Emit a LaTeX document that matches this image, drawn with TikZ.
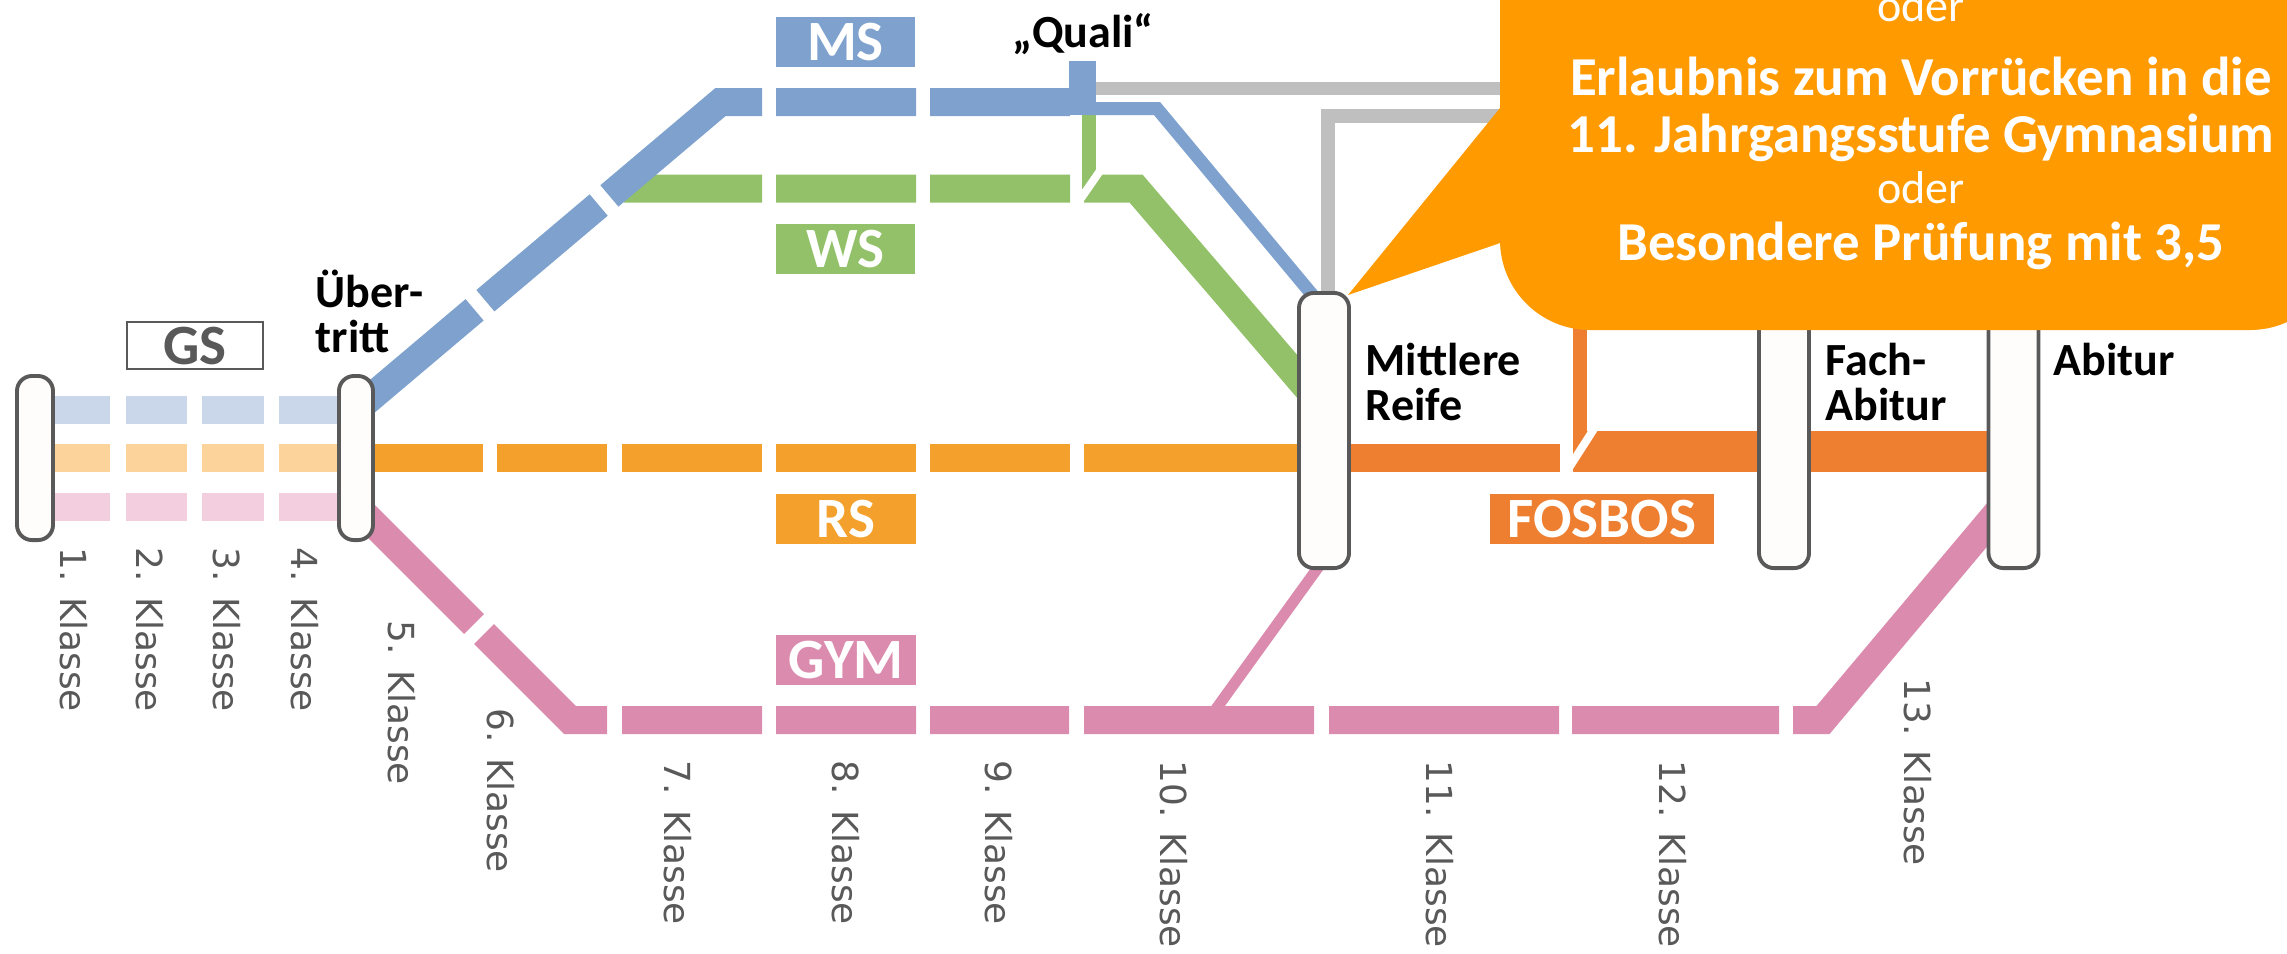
\documentclass[tikz,border=0pt]{standalone}
\usepackage{fontspec}
\setmainfont{Carlito}
\newfontfamily\klassefont{DejaVu Sans}
\definecolor{mscol}{HTML}{7EA2CD}
\definecolor{wscol}{HTML}{92C16A}
\definecolor{rscol}{HTML}{F3A12C}
\definecolor{gymcol}{HTML}{DB8BAD}
\definecolor{foscol}{HTML}{EE7F30}
\definecolor{lblue}{HTML}{CAD6EA}
\definecolor{lorange}{HTML}{FDD39C}
\definecolor{lpink}{HTML}{F2CEDE}
\definecolor{grayc}{HTML}{BFBFBF}
\definecolor{txtgray}{HTML}{595959}
\definecolor{pilfill}{HTML}{FFFDFB}
\definecolor{callcol}{HTML}{FF9A00}
\begin{document}
\begin{tikzpicture}[x=.01cm,y=-.01cm,
  band/.style={line width=.28cm},
  slim/.style={line width=.14cm},
  cut/.style={white,line width=.08cm},
  pillar/.style={draw=txtgray,fill=pilfill,line width=1.1pt,rounded corners=.15cm,inner sep=0pt},
  tag/.style={text=white,font=\fontsize{16.2}{18}\selectfont\bfseries,inner sep=0pt,minimum height=.5cm},
  lab/.style={font=\fontsize{13.1}{12.8}\selectfont\bfseries,align=left,anchor=base west,inner sep=0pt},
  kl/.style={text=txtgray,font=\klassefont\fontsize{10.2}{12}\selectfont,rotate=-90,anchor=west,inner sep=0pt},
  calltxt/.style={text=white,anchor=base,inner sep=0pt}]
\useasboundingbox (0,0) rectangle (2287,953);

\draw[line width=.13cm,grayc](1090,88.5)--(1530,88.5);
\draw[slim,grayc](1327.5,300)--(1327.5,115.5)--(1530,115.5);

\draw[band,lblue](35,409.5)--(110,409.5) (126,409.5)--(187,409.5) (202,409.5)--(264,409.5) (279,409.5)--(356,409.5);
\draw[band,lorange](35,458)--(110,458) (126,458)--(187,458) (202,458)--(264,458) (279,458)--(356,458);
\draw[band,lpink](35,507)--(110,507) (126,507)--(187,507) (202,507)--(264,507) (279,507)--(356,507);

\draw[band,wscol](624,188.5)--(762,188.5) (776,188.5)--(916,188.5) (930,188.5)--(1070,188.5) (1084,188.5)--(1136,188.5)--(1320,403);
\draw[slim,wscol](1089,115)--(1089,189);
\draw[cut](1077,204)--(1111,155);

\draw[band,mscol](356,410)--(474.6,309.8) (485.4,300.7)--(598.7,205) (609.4,195.9)--(720.5,102)--(762,102) (776,102)--(916,102) (930,102)--(1070,102);
\draw[line width=.27cm,mscol](1082.5,61)--(1082.5,115);
\draw[line width=.13cm,mscol](1090,108.5)--(1157,108.5)--(1325,310);

\draw[band,rscol](356,458)--(483,458) (497,458)--(607,458) (622,458)--(762,458) (776,458)--(916,458) (930,458)--(1070,458) (1084,458)--(1324,458);
\draw[slim,foscol](1580,250)--(1580,440);
\draw[band,foscol](1324,458)--(1560,458);
\draw[line width=.41cm,foscol](1573,451.5)--(2013,451.5);
\draw[cut](1565,474)--(1608,407);

\draw[band,gymcol](356,506)--(474,624) (484,634)--(570,720)--(607,720) (622,720)--(762,720) (776,720)--(916,720) (930,720)--(1069,720) (1084,720)--(1314,720) (1329,720)--(1559,720) (1572,720)--(1779,720) (1793,720)--(1823,720)--(2013,494);
\draw[line width=.11cm,gymcol](1208,720)--(1322,562);

\node[pillar,minimum width=.36cm,minimum height=1.64cm](p1) at (35,458){};
\node[pillar,minimum width=.34cm,minimum height=1.64cm](ueb) at (356,458){};
\node[pillar,minimum width=.5cm,minimum height=2.75cm](mr) at (1324,430.5){};
\node[pillar,minimum width=.5cm,minimum height=2.75cm](fach) at (1784,430.5){};
\node[pillar,minimum width=.5cm,minimum height=2.75cm](abi) at (2013.5,430.5){};

\fill[callcol,rounded corners=.9cm](1500,-150) rectangle (2340,330);
\fill[callcol](1520,83.4)--(1348,295)--(1520,236.2)--cycle;
\node[calltxt,font=\fontsize{13.1}{14}\selectfont](oder1) at (1921,21){oder};
\node[calltxt,font=\fontsize{15.6}{18}\selectfont\bfseries](erl) at (1921,95){Erlaubnis zum Vorrücken in die};
\node[calltxt,font=\fontsize{15.6}{18}\selectfont\bfseries](jgs) at (1921,152){11. Jahrgangsstufe Gymnasium};
\node[calltxt,font=\fontsize{13.1}{14}\selectfont](oder2) at (1921,203){oder};
\node[calltxt,font=\fontsize{15.6}{18}\selectfont\bfseries](bes) at (1921,260){Besondere Prüfung mit 3,5};

\node[tag,fill=mscol,minimum width=1.39cm](ms) at (845.5,42){MS};
\node[tag,fill=wscol,minimum width=1.39cm](ws) at (845.5,248.5){WS};
\node[tag,fill=rscol,minimum width=1.4cm](rs) at (846,518.5){RS};
\node[tag,fill=gymcol,minimum width=1.4cm](gym) at (846,659.5){GYM};
\node[tag,fill=foscol,minimum width=2.24cm](fos) at (1602,518.5){FOSBOS};
\node[tag,draw=txtgray,line width=.6pt,fill=white,text=txtgray,minimum width=1.36cm,minimum height=.47cm](gs) at (195,345.5){GS};

\node[lab](uebl) at (315,352){Über-\\tritt};
\node[lab](mrl) at (1365,420){Mittlere\\Reife};
\node[lab](fachl) at (1825,420){Fach-\\Abitur};
\node[lab](abil) at (2053,375){Abitur};
\node[lab](quali) at (1012,47){„Quali“};

\node[kl](k1) at (74,547){1. Klasse};
\node[kl](k2) at (150,547){2. Klasse};
\node[kl](k3) at (227,547){3. Klasse};
\node[kl](k4) at (305,547){4. Klasse};
\node[kl](k5) at (402,620){5. Klasse};
\node[kl](k6) at (501,708){6. Klasse};
\node[kl](k7) at (678,760){7. Klasse};
\node[kl](k8) at (846,760){8. Klasse};
\node[kl](k9) at (999,760){9. Klasse};
\node[kl](k10) at (1174,760){10. Klasse};
\node[kl](k11) at (1440,760){11. Klasse};
\node[kl](k12) at (1673,760){12. Klasse};
\node[kl](k13) at (1918,678){13. Klasse};
\end{tikzpicture}
\end{document}
